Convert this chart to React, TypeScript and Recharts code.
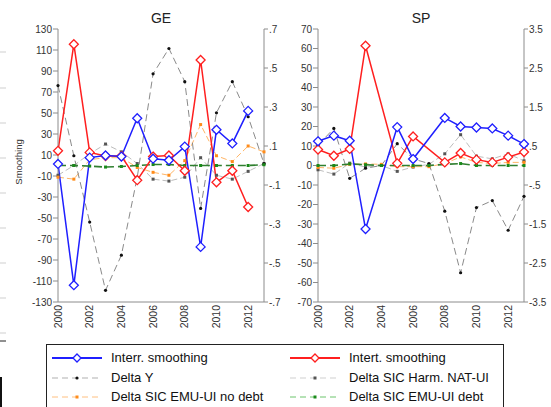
import React from 'react';
import { LineChart, Line, XAxis, YAxis } from 'recharts';

const years = [2000, 2001, 2002, 2003, 2004, 2005, 2006, 2007, 2008, 2009, 2010, 2011, 2012, 2013];
const yearTicks = [2000, 2002, 2004, 2006, 2008, 2010, 2012];

// GE – smoothing on the left axis, deltas on the right axis
const geInterr = [1.5, -114, 7.5, 9.5, 8.5, 45, 6.5, 5, 18, -77.5, 34, 21, 52, null];
const geIntert = [14, 115.5, 12.5, 9, 9, -14, 8.5, 9.5, -5, 100.5, -16, -5, -39.5, null];
const geDeltaY = [0.41, 0.05, -0.29, -0.64, -0.46, -0.06, 0.47, 0.6, 0.43, -0.22, 0.27, 0.43, 0.25, 0.01];
const geHarm = [-0.05, 0, 0.06, 0.11, 0.07, 0.01, -0.07, -0.08, -0.06, 0.04, -0.05, -0.07, -0.03, 0.01];
const geNoDebt = [-0.06, -0.07, 0.03, 0.04, 0.04, -0.01, -0.035, -0.05, 0.025, 0.21, 0.05, 0.02, 0.1, 0.07];
const geDebt = [0, 0, -0.003, -0.008, -0.005, 0, 0.005, 0.005, 0, 0, 0, 0, 0, 0.004];

// SP
const spInterr = [12.4, 15.3, 12.7, -32.6, null, 19.7, 3.3, null, 24.4, 20, 19.5, 19, 15.3, 11];
const spIntert = [8.2, 5, 8.5, 61.4, null, 1.1, 14.9, null, 1.6, 6.4, 3, 1.6, 4.3, 6.9];
const spDeltaY = [0.52, 0.95, -0.33, -0.07, 0, 0.56, 0.17, 0.05, -1.17, -2.75, -1.08, -0.9, -1.66, -0.79];
const spHarm = [-0.11, -0.22, 0.06, -0.04, 0, -0.15, -0.04, 0.03, 0.3, 0.79, 0.24, 0.17, 0.3, 0.12];
const spNoDebt = [-0.05, -0.07, 0.03, 0.04, 0.03, -0.03, -0.03, -0.03, 0.05, 0.22, 0.08, 0.05, 0.08, 0.08];
const spDebt = [0, 0, 0.04, 0.02, 0, 0, 0, 0, 0.03, 0.05, 0, 0, 0, 0];

const geLeftTicks = [-130, -110, -90, -70, -50, -30, -10, 10, 30, 50, 70, 90, 110, 130];
const geRightTicks = [-0.7, -0.5, -0.3, -0.1, 0.1, 0.3, 0.5, 0.7];
const spLeftTicks = [-70, -60, -50, -40, -30, -20, -10, 0, 10, 20, 30, 40, 50, 60, 70];
const spRightTicks = [-3.5, -2.5, -1.5, -0.5, 0.5, 1.5, 2.5, 3.5];

const FONT = '"Liberation Sans", Arial, sans-serif';
const BLUE = '#1f1fff';
const RED = '#ff1f1f';
const AXIS = '#8c8c8c';
const TXT = '#333';

const fmtRight = (v: number) => String(v).replace(/^(-?)0\./, '$1.');

const makeRows = (a: any[], b: any[], c: number[], d: number[], e: number[], f: number[]) =>
  years.map((year, i) => ({ year, interr: a[i], intert: b[i], dy: c[i], harm: d[i], nodebt: e[i], debt: f[i] }));

const geRows = makeRows(geInterr, geIntert, geDeltaY, geHarm, geNoDebt, geDebt);
const spRows = makeRows(spInterr, spIntert, spDeltaY, spHarm, spNoDebt, spDebt);

const diamond = (color: string) => (p: any) => {
  const { cx, cy, key, index } = p;
  if (cx == null || cy == null || p.value == null) return <g key={key ?? index} />;
  const r = 4.5;
  return (
    <path
      key={key ?? index}
      d={`M${cx},${cy - r}L${cx + r},${cy}L${cx},${cy + r}L${cx - r},${cy}Z`}
      fill="#fff"
      stroke={color}
      strokeWidth={1.3}
    />
  );
};

const square = (color: string, s: number) => (p: any) => {
  const { cx, cy, key, index } = p;
  if (cx == null || cy == null) return <g key={key ?? index} />;
  return <rect key={key ?? index} x={cx - s / 2} y={cy - s / 2} width={s} height={s} fill={color} />;
};

const dotBlack = (p: any) => {
  const { cx, cy, key, index } = p;
  if (cx == null || cy == null) return <g key={key ?? index} />;
  return <circle key={key ?? index} cx={cx} cy={cy} r={1.6} fill="#111" />;
};

const YearTick = (props: any) => {
  const { x, y, payload } = props;
  return (
    <g transform={`translate(${x},${y})`}>
      <text transform="rotate(-90)" x={-3} y={0} dy="0.35em" textAnchor="end" fontSize={10.5} fill={TXT} fontFamily={FONT}>
        {payload.value}
      </text>
    </g>
  );
};

type PanelProps = {
  rows: any[];
  left: number;
  right: number;
  lDomain: number[];
  lTicks: number[];
  rDomain: number[];
  rTicks: number[];
  rWidth: number;
};

const Panel = ({ rows, left, right, lDomain, lTicks, rDomain, rTicks, rWidth }: PanelProps) => (
  <LineChart
    width={551}
    height={340}
    data={rows}
    margin={{ top: 29, right, bottom: 3, left }}
    style={{ position: 'absolute', left: 0, top: 0 }}
  >
    <XAxis
      dataKey="year"
      type="number"
      domain={[2000, 2013]}
      ticks={yearTicks}
      interval={0}
      tick={<YearTick />}
      tickLine={false}
      tickSize={0}
      tickMargin={0}
      height={35}
      stroke={AXIS}
      yAxisId="l"
    />
    <YAxis
      yAxisId="l"
      orientation="left"
      width={40}
      domain={lDomain}
      ticks={lTicks}
      interval={0}
      tickSize={5}
      tickMargin={1}
      stroke={AXIS}
      tick={{ fontSize: 10, fill: TXT, fontFamily: FONT }}
      allowDataOverflow
    />
    <YAxis
      yAxisId="r"
      orientation="right"
      width={rWidth}
      domain={rDomain}
      ticks={rTicks}
      interval={0}
      tickSize={4}
      tickMargin={1}
      stroke={AXIS}
      tickFormatter={fmtRight}
      tick={{ fontSize: 10, fill: TXT, fontFamily: FONT }}
      allowDataOverflow
    />
    <Line yAxisId="r" dataKey="harm" stroke="#bdbdbd" strokeWidth={1} strokeDasharray="6 3" dot={square('#555', 3)} isAnimationActive={false} />
    <Line yAxisId="r" dataKey="nodebt" stroke="#ffb566" strokeWidth={1} strokeDasharray="6 3" dot={square('#ff8c1a', 3)} isAnimationActive={false} />
    <Line yAxisId="r" dataKey="dy" stroke="#8a8a8a" strokeWidth={1} strokeDasharray="7 4" dot={dotBlack} isAnimationActive={false} />
    <Line yAxisId="r" dataKey="debt" stroke="#2f7f2f" strokeWidth={1.6} strokeDasharray="8 4" dot={square('#1a8a1a', 3)} isAnimationActive={false} />
    <Line yAxisId="l" dataKey="intert" stroke={RED} strokeWidth={1.5} dot={diamond(RED)} connectNulls isAnimationActive={false} />
    <Line yAxisId="l" dataKey="interr" stroke={BLUE} strokeWidth={1.5} dot={diamond(BLUE)} connectNulls isAnimationActive={false} />
  </LineChart>
);

const Sample = ({ kind }: { kind: string }) => {
  const w = 50;
  const c = 5;
  let line: React.ReactNode = null;
  let mark: React.ReactNode = null;
  if (kind === 'blue' || kind === 'red') {
    const col = kind === 'blue' ? BLUE : RED;
    line = <line x1={0} y1={c} x2={w} y2={c} stroke={col} strokeWidth={2} />;
    mark = <path d={`M25,${c - 4}L29,${c}L25,${c + 4}L21,${c}Z`} fill="#fff" stroke={col} strokeWidth={1.3} />;
  } else if (kind === 'dy') {
    line = <line x1={0} y1={c} x2={w} y2={c} stroke="#b0b0b0" strokeWidth={1.2} strokeDasharray="6 4" />;
    mark = <circle cx={25} cy={c} r={1.6} fill="#111" />;
  } else if (kind === 'harm') {
    line = <line x1={0} y1={c} x2={w} y2={c} stroke="#cfcfcf" strokeWidth={1.2} strokeDasharray="6 4" />;
    mark = <rect x={23.5} y={c - 1.5} width={3} height={3} fill="#555" />;
  } else if (kind === 'nodebt') {
    line = <line x1={0} y1={c} x2={w} y2={c} stroke="#ffc080" strokeWidth={1} strokeDasharray="6 4" />;
    mark = <rect x={23.5} y={c - 1.5} width={3} height={3} fill="#ff8c1a" />;
  } else {
    line = <line x1={0} y1={c} x2={w} y2={c} stroke="#6cc56c" strokeWidth={1} strokeDasharray="6 4" />;
    mark = <rect x={23.5} y={c - 1.5} width={3} height={3} fill="#1a8a1a" />;
  }
  return (
    <svg width={w} height={10} style={{ display: 'block' }}>
      {line}
      {mark}
    </svg>
  );
};

const legendItems = [
  { kind: 'blue', label: 'Interr. smoothing', col: 0, row: 0 },
  { kind: 'red', label: 'Intert. smoothing', col: 1, row: 0 },
  { kind: 'dy', label: 'Delta Y', col: 0, row: 1 },
  { kind: 'harm', label: 'Delta SIC Harm. NAT-UI', col: 1, row: 1 },
  { kind: 'nodebt', label: 'Delta SIC EMU-UI no debt', col: 0, row: 2 },
  { kind: 'debt', label: 'Delta SIC EMU-UI debt', col: 1, row: 2 },
];

const leftMarks = [52, 88, 123, 158, 193, 228, 263, 298, 333];

export default function App() {
  return (
    <div
      style={{
        position: 'absolute',
        left: 0,
        top: 0,
        width: 551,
        height: 407,
        overflow: 'hidden',
        background: '#fff',
        fontFamily: FONT,
      }}
    >
      <Panel rows={geRows} left={18} right={257} lDomain={[-130, 130]} lTicks={geLeftTicks} rDomain={[-0.7, 0.7]} rTicks={geRightTicks} rWidth={30} />
      <Panel rows={spRows} left={278} right={0} lDomain={[-70, 70]} lTicks={spLeftTicks} rDomain={[-3.5, 3.5]} rTicks={spRightTicks} rWidth={27} />

      <svg width={551} height={407} style={{ position: 'absolute', left: 0, top: 0, pointerEvents: 'none' }}>
        <text x={161} y={23} textAnchor="middle" fontSize={14} fill="#222" fontFamily={FONT}>GE</text>
        <text x={421} y={23} textAnchor="middle" fontSize={14} fill="#222" fontFamily={FONT}>SP</text>
        <text transform="translate(22,162) rotate(-90)" textAnchor="middle" fontSize={9.5} fill={TXT} fontFamily={FONT}>Smoothing</text>
        {leftMarks.map((y) => (
          <line key={y} x1={0} y1={y} x2={6} y2={y} stroke="#cfcfcf" strokeWidth={1} />
        ))}
        <line x1={0} y1={341} x2={6} y2={341} stroke="#222" strokeWidth={1} />
        <line x1={1} y1={377} x2={1} y2={407} stroke="#111" strokeWidth={2} />
      </svg>

      <div
        style={{
          position: 'absolute',
          left: 46,
          top: 344,
          width: 456,
          height: 90,
          border: '1px solid #222',
          background: '#fff',
        }}
      >
        {legendItems.map((it) => (
          <div
            key={it.label}
            style={{
              position: 'absolute',
              left: it.col === 0 ? 5 : 243,
              top: 6 + it.row * 19.7,
              display: 'flex',
              alignItems: 'center',
              height: 14,
              whiteSpace: 'nowrap',
            }}
          >
            <Sample kind={it.kind} />
            <span style={{ marginLeft: 9, fontSize: 13, color: '#111', lineHeight: '14px' }}>{it.label}</span>
          </div>
        ))}
      </div>
    </div>
  );
}
